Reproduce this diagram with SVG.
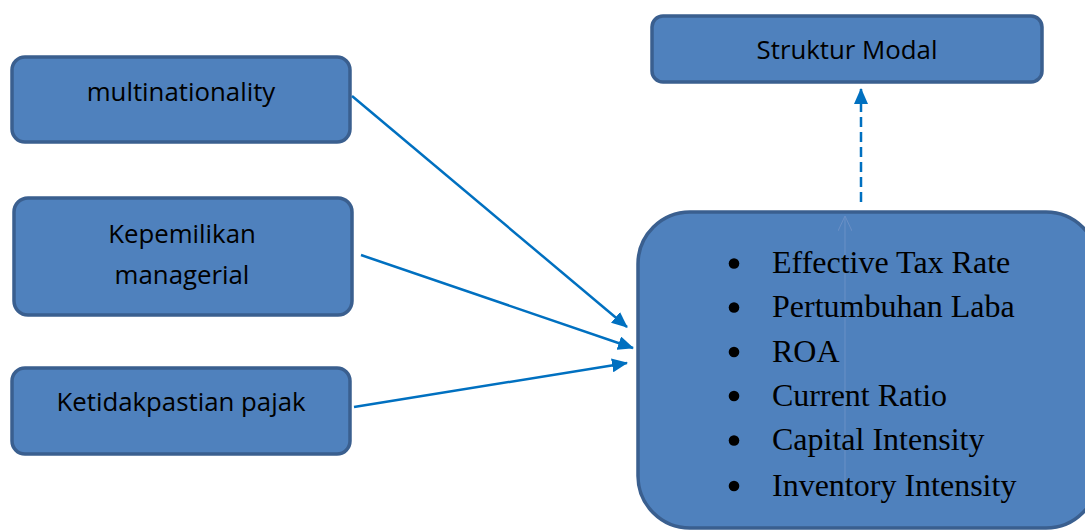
<svg xmlns="http://www.w3.org/2000/svg" width="1085" height="531" viewBox="0 0 1085 531">
<style>
.box{fill:#4f81bd;stroke:#3a5f8f;stroke-width:3.5}
.lbl{font-family:"Open Sans","Noto Sans",sans-serif;font-size:25.8px;fill:#000;text-anchor:middle}
.item{font-family:"Liberation Serif","Times New Roman",serif;font-size:32px;fill:#000}
.conn{stroke:#0070c0;stroke-width:2.5;fill:none}
</style>
<defs>
<marker id="ah" viewBox="0 0 16 14" refX="15" refY="7" markerWidth="16" markerHeight="14" markerUnits="userSpaceOnUse" orient="auto">
<path d="M0,0 L16,7 L0,14 Z" fill="#0070c0"/>
</marker>
<marker id="fah" viewBox="0 0 16 14" refX="15" refY="7" markerWidth="16" markerHeight="14" markerUnits="userSpaceOnUse" orient="auto">
<path d="M0,0 L15,7 L0,14" fill="none" stroke="#6b90c6" stroke-width="1"/>
</marker>
</defs>
<rect width="1085" height="531" fill="#fff"/>
<g id="node-multinationality">
<rect class="box" x="12" y="57" width="338" height="85" rx="13"/>
<text class="lbl" x="181" y="101">multinationality</text>
</g>
<g id="node-kepemilikan">
<rect class="box" x="14" y="198" width="338" height="117" rx="14"/>
<text class="lbl" x="182" y="243">Kepemilikan</text>
<text class="lbl" x="182" y="284">managerial</text>
</g>
<g id="node-ketidakpastian">
<rect class="box" x="12" y="368" width="338" height="86" rx="13"/>
<text class="lbl" x="181" y="411">Ketidakpastian pajak</text>
</g>
<g id="node-struktur">
<rect class="box" x="652" y="16" width="390" height="66" rx="11"/>
<text class="lbl" x="847" y="59">Struktur Modal</text>
</g>
<g id="node-variabel">
<rect class="box" x="638" y="212" width="460" height="316" rx="52"/>
<line x1="845" y1="500" x2="845" y2="216" stroke="#6b90c6" stroke-width="1" marker-end="url(#fah)"/>
<g fill="#000">
<circle cx="734" cy="263.5" r="5.3"/>
<circle cx="734" cy="307.5" r="5.3"/>
<circle cx="734" cy="352" r="5.3"/>
<circle cx="734" cy="396" r="5.3"/>
<circle cx="734" cy="440.5" r="5.3"/>
<circle cx="734" cy="486" r="5.3"/>
</g>
<text class="item" x="772" y="273">Effective Tax Rate</text>
<text class="item" x="772" y="317">Pertumbuhan Laba</text>
<text class="item" x="772" y="361.5">ROA</text>
<text class="item" x="772" y="405.5">Current Ratio</text>
<text class="item" x="772" y="450">Capital Intensity</text>
<text class="item" x="772" y="496">Inventory Intensity</text>
</g>
<g id="connectors">
<line class="conn" x1="352" y1="96" x2="627" y2="327" marker-end="url(#ah)"/>
<line class="conn" x1="361" y1="255" x2="633" y2="348" marker-end="url(#ah)"/>
<line class="conn" x1="354" y1="407" x2="627" y2="363" marker-end="url(#ah)"/>
<line class="conn" x1="861" y1="202" x2="861" y2="89" stroke-dasharray="10 5" marker-end="url(#ah)"/>
</g>
</svg>
